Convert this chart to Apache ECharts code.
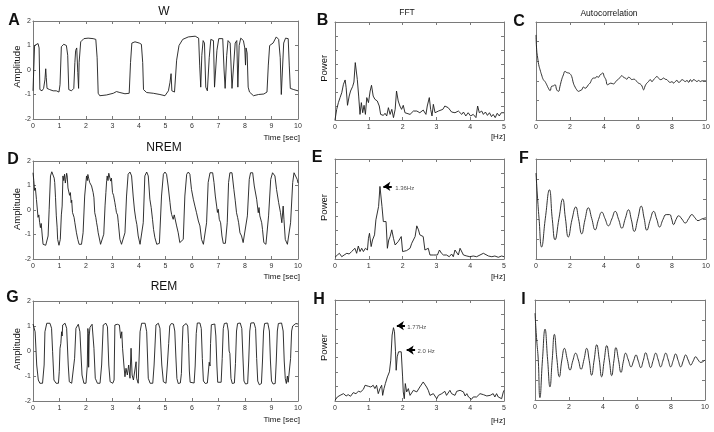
<!DOCTYPE html>
<html><head><meta charset="utf-8">
<script src="https://cdn.jsdelivr.net/npm/echarts@6.0.0/dist/echarts.min.js"></script>
<style>html,body{margin:0;padding:0;background:#fff}#c{width:714px;height:432px}</style>
</head><body><div id="c"></div>
<script>
// ---------- data (time [sec] / frequency [Hz], value) ----------
const wSignal = [[0,-0.85],[0.03,-0.8],[0.06,1.0],[0.13,1.05],[0.19,1.08],[0.23,0.9],[0.26,-0.8],[0.34,-0.85],[0.40,-0.75],[0.45,-0.4],[0.48,0.05],[0.50,-0.3],[0.53,-0.75],[0.63,-0.8],[0.70,-0.78],[0.76,-0.85],[0.88,-0.85],[0.98,-0.9],[1.02,-0.6],[1.07,0.95],[1.16,1.05],[1.26,1.0],[1.31,0.6],[1.35,-0.8],[1.45,-0.85],[1.54,-0.75],[1.58,0.3],[1.61,0.8],[1.65,0.9],[1.69,-0.1],[1.72,-0.75],[1.74,0.3],[1.80,1.15],[1.92,1.28],[2.08,1.3],[2.27,1.28],[2.37,1.25],[2.42,0.5],[2.46,-0.95],[2.52,-1.05],[2.77,-1.02],[3.03,-0.95],[3.15,-0.88],[3.28,-0.92],[3.47,-0.97],[3.63,-0.95],[3.68,0.3],[3.73,1.1],[3.85,1.15],[4.01,1.1],[4.09,1.05],[4.14,0.3],[4.17,-0.8],[4.29,-0.92],[4.54,-0.95],[4.79,-1.0],[4.98,-1.05],[5.11,-0.85],[5.17,-0.5],[5.21,-0.15],[5.24,-0.85],[5.34,-0.9],[5.42,0.4],[5.51,1.0],[5.65,1.25],[5.86,1.35],[6.12,1.38],[6.25,1.3],[6.29,0.2],[6.33,-0.7],[6.37,0.6],[6.42,1.2],[6.47,1.1],[6.52,-0.7],[6.58,-0.85],[6.65,0.5],[6.71,1.25],[6.81,1.2],[6.85,-0.7],[6.89,-0.75],[6.94,0.8],[7.01,1.28],[7.16,1.28],[7.21,0],[7.25,-0.75],[7.31,0.6],[7.36,1.2],[7.44,1.1],[7.51,-0.75],[7.58,-0.7],[7.63,1.1],[7.69,1.2],[7.73,-0.7],[7.78,1.0],[7.84,1.3],[7.94,1.2],[7.99,0.9],[8.02,0.2],[8.04,0.9],[8.08,0.7],[8.12,-0.7],[8.17,-0.9],[8.32,-1.05],[8.51,-1.0],[8.71,-0.98],[8.83,-0.9],[8.88,0.2],[8.93,1.0],[9.06,1.1],[9.18,1.35],[9.27,1.25],[9.33,0.5],[9.37,-1.0],[9.41,-0.95],[9.46,1.1],[9.53,1.3],[9.63,1.28],[9.67,0.2],[9.71,-0.75],[9.84,-0.8],[10,-0.85]];

const nremSignal = [[0,1.52],[0.03,1.2],[0.06,0.8],[0.09,0.9],[0.13,0.43],[0.16,0.5],[0.19,-0.3],[0.22,-0.2],[0.25,-0.5],[0.28,-0.72],[0.31,-0.55],[0.35,-1.06],[0.38,-1.4],[0.43,-1.44],[0.48,-1.44],[0.53,-1.36],[0.57,-1.06],[0.61,0.03],[0.66,1.39],[0.71,1.56],[0.76,1.52],[0.80,1.3],[0.82,1.12],[0.85,0.5],[0.88,-0.24],[0.91,-0.7],[0.93,-1.2],[0.98,-1.44],[1.03,-1.2],[1.07,-0.2],[1.10,0.16],[1.13,1.39],[1.16,1.2],[1.19,1.46],[1.22,1.1],[1.24,1.25],[1.27,1.5],[1.29,1.39],[1.32,0.9],[1.36,0.98],[1.38,0.6],[1.41,0.71],[1.44,0.3],[1.46,0.4],[1.49,-0.1],[1.51,-0.18],[1.55,-0.3],[1.58,-0.52],[1.61,-0.6],[1.64,-0.93],[1.69,-1.2],[1.74,-1.4],[1.83,-1.4],[1.89,-0.93],[1.95,0.57],[2.02,1.39],[2.05,1.2],[2.07,1.45],[2.10,1.3],[2.14,1.12],[2.17,1.2],[2.21,0.98],[2.24,1.05],[2.27,0.71],[2.30,0.5],[2.33,-0.11],[2.37,-0.3],[2.40,-0.52],[2.43,-0.7],[2.46,-0.93],[2.55,-1.4],[2.62,-1.36],[2.67,-0.99],[2.72,0.2],[2.75,0.71],[2.78,1.2],[2.80,1.39],[2.83,1.2],[2.86,1.5],[2.88,1.46],[2.93,1.18],[2.96,1.3],[3.00,0.71],[3.04,0.6],[3.09,0.3],[3.12,0.1],[3.15,-0.11],[3.19,-0.2],[3.22,-0.52],[3.28,-1.2],[3.34,-1.4],[3.40,-1.36],[3.47,-0.93],[3.53,0.57],[3.59,1.46],[3.66,1.55],[3.72,1.39],[3.78,0.57],[3.83,0.0],[3.88,-0.38],[3.92,-0.6],[3.97,-1.06],[4.04,-1.4],[4.10,-1.4],[4.16,-0.52],[4.22,1.39],[4.29,1.55],[4.35,1.39],[4.41,0.44],[4.46,0.1],[4.51,-0.38],[4.55,-0.8],[4.60,-1.13],[4.67,-1.4],[4.77,-1.36],[4.85,0.57],[4.92,1.46],[4.98,1.55],[5.04,1.46],[5.10,0.98],[5.17,0.3],[5.20,0.0],[5.23,-0.18],[5.29,-0.38],[5.33,-0.2],[5.36,-0.24],[5.42,-0.65],[5.48,-0.93],[5.54,-1.33],[5.61,-1.4],[5.67,-1.2],[5.73,0.57],[5.80,1.46],[5.86,1.55],[5.92,1.46],[5.98,0.84],[6.05,0.44],[6.08,0.5],[6.11,0.16],[6.17,-0.11],[6.20,-0.05],[6.24,-0.45],[6.30,-0.65],[6.36,-1.2],[6.43,-1.4],[6.49,-1.4],[6.55,-0.52],[6.61,1.12],[6.68,1.52],[6.78,1.52],[6.83,1.12],[6.88,0.57],[6.93,0.16],[6.96,-0.1],[6.99,0.03],[7.03,-0.38],[7.08,-0.52],[7.13,-1.06],[7.18,-1.36],[7.26,-1.36],[7.33,-0.52],[7.38,1.12],[7.43,1.52],[7.51,1.52],[7.58,0.84],[7.63,0.4],[7.68,-0.11],[7.72,-0.3],[7.76,-0.52],[7.81,-0.93],[7.87,-1.06],[7.93,-1.33],[8.00,-1.26],[8.09,-0.24],[8.16,1.25],[8.21,1.52],[8.29,1.52],[8.35,0.98],[8.44,0.44],[8.50,-0.11],[8.53,0.1],[8.56,-0.24],[8.63,-0.52],[8.66,-0.79],[8.71,-1.33],[8.79,-1.4],[8.84,-1.33],[8.89,-0.24],[8.97,1.25],[9.04,1.52],[9.13,1.39],[9.19,0.84],[9.27,0.3],[9.34,-0.11],[9.39,-0.52],[9.44,0.16],[9.47,-0.38],[9.52,-1.2],[9.60,-1.4],[9.67,-1.36],[9.72,-0.52],[9.80,1.12],[9.85,1.52],[9.92,1.52],[9.97,1.25],[10,1.1]];

const remSignal = [[0,1.08],[0.01,1.11],[0.08,0.77],[0.14,-0.56],[0.2,-1.16],[0.26,-1.29],[0.36,-1.29],[0.42,-0.56],[0.45,0.77],[0.52,1.11],[0.64,1.11],[0.70,0.91],[0.74,-0.03],[0.79,-1.16],[0.87,-1.29],[0.96,-1.29],[0.99,-0.83],[1.02,0.11],[1.05,0.3],[1.08,0.77],[1.10,0.6],[1.12,1.04],[1.21,1.11],[1.27,0.91],[1.33,-0.56],[1.37,-1.23],[1.46,-1.29],[1.52,-1.23],[1.57,-0.29],[1.62,0.91],[1.71,1.07],[1.77,0.77],[1.85,-0.96],[1.92,-1.29],[2.0,-1.29],[2.05,-0.56],[2.07,0.9],[2.09,0.7],[2.10,-0.65],[2.12,0.6],[2.15,0.95],[2.23,1.07],[2.30,0.11],[2.35,-1.09],[2.43,-1.29],[2.53,-1.29],[2.59,-0.56],[2.65,1.04],[2.75,1.11],[2.81,0.97],[2.86,-0.56],[2.91,-1.23],[3.01,-1.29],[3.06,-1.16],[3.09,1.04],[3.18,1.07],[3.26,1.04],[3.31,0.51],[3.35,0.77],[3.38,0.11],[3.43,-0.56],[3.47,-1.03],[3.51,-0.69],[3.56,-0.96],[3.61,-0.56],[3.66,-1.09],[3.70,0.11],[3.74,-0.96],[3.79,-1.16],[3.85,-1.09],[3.89,-0.43],[3.91,-1.09],[3.97,-1.29],[4.04,0.77],[4.10,1.11],[4.23,1.11],[4.29,0.77],[4.35,-1.09],[4.42,-1.29],[4.52,-1.29],[4.57,-0.56],[4.64,1.04],[4.73,1.11],[4.79,0.91],[4.86,-0.56],[4.92,-1.23],[5.02,-1.29],[5.07,-0.56],[5.12,0.3],[5.16,1.0],[5.22,1.1],[5.3,1.08],[5.35,0.8],[5.39,-0.2],[5.43,-1.1],[5.48,-1.3],[5.56,-1.28],[5.6,-0.9],[5.63,0.2],[5.66,1.0],[5.7,1.08],[5.78,1.1],[5.84,1.0],[5.87,0.3],[5.9,-0.8],[5.93,-1.25],[6.0,-1.3],[6.08,-1.28],[6.12,-0.6],[6.16,0.7],[6.2,1.12],[6.3,1.12],[6.35,0.9],[6.39,-0.3],[6.43,-1.2],[6.5,-1.3],[6.58,-1.28],[6.62,-0.8],[6.65,-0.45],[6.68,-0.6],[6.7,0.3],[6.73,1.05],[6.8,1.1],[6.86,1.08],[6.9,0.6],[6.94,-0.6],[6.97,-1.25],[7.04,-1.3],[7.1,-1.25],[7.14,-0.3],[7.18,0.9],[7.22,1.1],[7.32,1.12],[7.37,0.8],[7.4,0.0],[7.43,-0.1],[7.47,-1.1],[7.52,-1.3],[7.6,-1.28],[7.64,-0.5],[7.68,0.8],[7.72,1.1],[7.82,1.12],[7.88,0.9],[7.92,-0.2],[7.96,-1.2],[8.02,-1.32],[8.1,-1.3],[8.14,-0.4],[8.18,0.8],[8.22,1.12],[8.34,1.13],[8.4,0.9],[8.44,-0.3],[8.48,-1.2],[8.54,-1.35],[8.62,-1.3],[8.66,-0.4],[8.7,0.8],[8.74,1.1],[8.86,1.12],[8.92,0.8],[8.96,-0.4],[9.0,-1.2],[9.06,-1.32],[9.14,-1.3],[9.18,-0.4],[9.22,0.8],[9.26,1.1],[9.38,1.12],[9.44,0.8],[9.48,-0.4],[9.52,-1.1],[9.56,-1.3],[9.6,-1.0],[9.63,-1.25],[9.68,-1.3],[9.72,-0.3],[9.76,0.8],[9.8,1.0],[9.86,1.05],[9.92,1.1],[10.0,1.08]];

const wFFT = [[0,0],[0.05,0.76],[0.10,1.24],[0.15,1.6],[0.20,1.95],[0.25,2.55],[0.30,2.86],[0.33,2.31],[0.37,1.05],[0.42,1.71],[0.46,2.07],[0.52,2.38],[0.56,2.71],[0.60,4.1],[0.62,4.21],[0.66,2.9],[0.70,1.71],[0.74,0.4],[0.78,1.24],[0.82,0.52],[0.86,1.05],[0.90,0.4],[0.94,1.6],[0.99,1.24],[1.04,2.07],[1.08,2.48],[1.13,1.71],[1.18,1.48],[1.25,1.36],[1.31,1.0],[1.35,0.4],[1.39,0.52],[1.43,0.33],[1.48,0.48],[1.53,0.29],[1.58,0.88],[1.63,0.4],[1.68,0.76],[1.73,0.17],[1.78,0.76],[1.82,2.07],[1.87,1.36],[1.92,1.0],[1.97,0.76],[2.02,1.05],[2.07,0.52],[2.12,0.4],[2.22,0.4],[2.32,0.64],[2.42,0.64],[2.51,0.52],[2.61,0.71],[2.69,0.4],[2.73,1.0],[2.79,1.6],[2.83,0.76],[2.87,0.29],[2.91,1.12],[2.96,0.52],[3.01,0.4],[3.06,0.64],[3.11,0.52],[3.19,0.76],[3.25,1.0],[3.35,0.88],[3.45,0.57],[3.55,0.52],[3.65,0.64],[3.75,0.4],[3.80,0.57],[3.87,0.29],[3.94,0.52],[4.01,0.29],[4.09,0.4],[4.17,0.17],[4.22,1.0],[4.27,0.52],[4.34,0.64],[4.39,0.4],[4.45,0.57],[4.51,0.33],[4.57,0.52],[4.63,0.24],[4.68,0.4],[4.74,0.17],[4.80,0.48],[4.86,0.29],[4.92,0.52],[5.0,0.52]];

const nremFFT = [[0,0.12],[0.07,0.28],[0.13,0.40],[0.20,0.16],[0.27,0.28],[0.35,0.40],[0.42,0.35],[0.49,0.52],[0.54,0.40],[0.59,0.75],[0.64,0.40],[0.69,0.91],[0.74,0.52],[0.79,0.75],[0.84,0.52],[0.90,0.75],[0.96,0.63],[0.99,1.45],[1.02,1.80],[1.07,0.87],[1.11,1.33],[1.17,1.69],[1.21,2.74],[1.25,2.79],[1.29,3.68],[1.33,5.08],[1.36,4.96],[1.39,3.68],[1.43,2.62],[1.47,2.51],[1.51,2.62],[1.55,0.75],[1.59,1.33],[1.63,1.57],[1.68,2.04],[1.73,1.45],[1.78,0.98],[1.82,0.87],[1.87,1.22],[1.92,1.33],[1.96,1.57],[2.0,0.52],[2.04,0.52],[2.12,0.59],[2.17,0.59],[2.22,0.75],[2.27,1.10],[2.32,1.10],[2.37,1.57],[2.42,2.32],[2.47,2.04],[2.51,1.69],[2.56,1.62],[2.61,1.57],[2.66,0.63],[2.71,0.52],[2.76,0.75],[2.81,0.28],[2.86,0.40],[2.91,0.28],[2.96,0.21],[3.03,0.28],[3.09,0.63],[3.15,0.40],[3.21,0.28],[3.30,0.28],[3.38,0.16],[3.45,0.35],[3.50,0.16],[3.55,0.63],[3.60,0.52],[3.65,0.28],[3.70,0.75],[3.75,0.63],[3.80,0.28],[3.90,0.21],[3.99,0.16],[4.09,0.21],[4.19,0.16],[4.29,0.28],[4.39,0.40],[4.44,0.28],[4.54,0.21],[4.64,0.16],[4.73,0.21],[4.83,0.12],[4.93,0.21],[5.0,0.16]];

const remFFT = [[0,0.05],[0.07,0.28],[0.15,0.39],[0.25,0.51],[0.33,0.35],[0.39,0.44],[0.46,0.33],[0.54,0.58],[0.62,0.51],[0.69,0.67],[0.76,0.63],[0.84,0.81],[0.89,1.09],[0.94,0.97],[0.99,1.02],[1.06,0.97],[1.13,1.09],[1.18,0.86],[1.23,1.09],[1.28,0.51],[1.33,0.86],[1.38,1.09],[1.41,0.39],[1.45,0.86],[1.49,1.21],[1.55,1.67],[1.61,2.02],[1.65,2.83],[1.69,4.57],[1.73,5.08],[1.76,4.8],[1.79,3.41],[1.81,2.13],[1.84,3.06],[1.88,3.41],[1.92,3.53],[1.96,3.41],[2.0,1.67],[2.02,0.63],[2.05,0.16],[2.08,1.21],[2.12,0.63],[2.17,0.86],[2.22,0.39],[2.27,0.51],[2.32,0.74],[2.37,0.86],[2.42,0.63],[2.47,0.74],[2.51,0.97],[2.56,1.09],[2.61,1.32],[2.66,1.21],[2.71,0.97],[2.76,0.74],[2.81,0.39],[2.86,0.28],[2.91,0.51],[2.96,0.39],[3.01,0.16],[3.06,0.39],[3.11,0.28],[3.16,0.51],[3.21,0.51],[3.25,0.67],[3.30,0.39],[3.35,0.51],[3.40,0.74],[3.45,0.51],[3.50,0.63],[3.55,0.39],[3.60,0.67],[3.65,0.63],[3.70,0.74],[3.75,0.86],[3.80,0.63],[3.85,0.35],[3.90,0.51],[3.95,0.28],[4.0,0.16],[4.04,0.12],[4.09,0.28],[4.19,0.28],[4.29,0.51],[4.39,0.44],[4.49,0.35],[4.59,0.39],[4.68,0.51],[4.73,0.28],[4.78,0.51],[4.83,0.28],[4.88,0.39],[4.93,0.16],[4.98,0.63],[5.0,0.74]];

const wACF = [[0,1.17],[0.04,0.79],[0.10,0.58],[0.16,0.41],[0.24,0.28],[0.33,0.15],[0.43,0.03],[0.53,-0.02],[0.63,-0.10],[0.73,-0.19],[0.83,-0.25],[0.92,-0.14],[1.02,-0.13],[1.12,-0.10],[1.22,-0.23],[1.32,-0.27],[1.41,-0.14],[1.51,0.03],[1.61,0.15],[1.71,0.24],[1.81,0.21],[1.91,0.20],[2.0,0.18],[2.10,0.11],[2.20,-0.06],[2.30,-0.16],[2.40,-0.23],[2.50,-0.27],[2.59,-0.25],[2.69,-0.23],[2.79,-0.16],[2.89,-0.19],[2.99,-0.16],[3.08,-0.10],[3.18,-0.06],[3.28,0.03],[3.38,0.07],[3.48,0.07],[3.58,0.11],[3.67,0.09],[3.77,0.15],[3.87,0.18],[3.93,0.20],[4.01,0.11],[4.11,0.03],[4.20,-0.10],[4.30,-0.08],[4.40,-0.06],[4.56,-0.08],[4.66,-0.04],[4.75,0.01],[4.85,0.04],[4.95,0.09],[5.05,0.13],[5.15,0.09],[5.25,0.07],[5.34,0.04],[5.44,0.09],[5.54,0.07],[5.64,0.03],[5.74,0.04],[5.83,0.03],[5.93,-0.02],[6.03,-0.06],[6.13,-0.08],[6.23,-0.13],[6.33,-0.23],[6.42,-0.13],[6.52,-0.06],[6.62,-0.02],[6.72,0.03],[6.82,-0.02],[6.92,0.03],[7.01,0.07],[7.11,0.11],[7.21,0.07],[7.31,0.03],[7.41,0.04],[7.50,0.07],[7.60,0.04],[7.70,0.03],[7.80,-0.02],[7.90,-0.04],[8.0,-0.02],[8.09,-0.06],[8.19,-0.02],[8.29,0.01],[8.39,-0.04],[8.49,-0.02],[8.59,0.03],[8.68,0.01],[8.78,-0.02],[8.88,0.01],[8.98,-0.04],[9.08,0.03],[9.17,-0.02],[9.27,0.03],[9.37,0.01],[9.47,-0.02],[9.57,0.01],[9.67,-0.02],[9.76,0],[9.86,0],[10,0]];

const nremACF = [[0,1.15],[0.08,0.6],[0.18,0.01],[0.33,-0.7],[0.55,0.02],[0.79,0.73],[0.96,-0.01],[1.12,-0.52],[1.35,0.01],[1.57,0.5],[1.73,0.02],[1.9,-0.45],[2.12,-0.01],[2.34,0.3],[2.5,0.01],[2.69,-0.37],[2.88,-0.02],[3.08,0.28],[3.28,0.01],[3.48,-0.27],[3.68,-0.01],[3.87,0.17],[4.06,0.01],[4.26,-0.17],[4.46,0.0],[4.66,0.19],[4.86,-0.01],[5.05,-0.23],[5.25,0.01],[5.44,0.23],[5.61,-0.02],[5.78,-0.31],[5.99,0.01],[6.19,0.32],[6.36,0.02],[6.52,-0.28],[6.72,-0.02],[6.92,0.19],[7.1,0.0],[7.27,-0.2],[7.47,-0.01],[7.66,0.11],[7.86,0.11],[7.98,0.0],[8.09,-0.14],[8.24,-0.01],[8.39,0.08],[8.58,0.0],[8.78,-0.1],[8.98,0.01],[9.17,0.11],[9.35,0.03],[9.53,-0.04],[9.75,0.0],[10,0.03]];

const remACF = [[0,1.17],[0.1,0.5],[0.19,0.02],[0.29,-0.94],[0.44,0.01],[0.59,0.77],[0.74,0.02],[0.88,-0.67],[1.01,-0.01],[1.14,0.64],[1.29,0.02],[1.43,-0.42],[1.58,0.0],[1.73,0.29],[1.9,0.01],[2.06,-0.25],[2.23,-0.01],[2.39,0.17],[2.55,0.0],[2.71,-0.23],[2.88,0.01],[3.04,0.29],[3.19,-0.01],[3.33,-0.38],[3.48,0.0],[3.63,0.38],[3.78,0.01],[3.92,-0.42],[4.07,-0.01],[4.22,0.36],[4.37,0.0],[4.51,-0.39],[4.64,-0.02],[4.76,0.31],[4.91,0.01],[5.06,-0.31],[5.2,-0.03],[5.33,0.17],[5.49,0.0],[5.65,-0.17],[5.8,-0.02],[5.94,0.125],[6.08,-0.03],[6.22,-0.19],[6.37,-0.01],[6.51,0.18],[6.66,-0.01],[6.8,-0.19],[6.95,-0.01],[7.1,0.17],[7.25,0.0],[7.39,-0.17],[7.54,0.0],[7.69,0.17],[7.84,0.0],[7.98,-0.17],[8.13,-0.01],[8.27,0.15],[8.42,-0.01],[8.57,-0.17],[8.72,-0.02],[8.86,0.125],[9.01,0.0],[9.16,-0.125],[9.31,-0.02],[9.45,0.08],[9.6,0.0],[9.75,-0.06],[10,0.0]];

// peak annotations: [arrow tail f, arrow head f, power, text, text f]
const nremPeaks = [[1.68,1.43,5.08,'1.36Hz',1.78]];
const remPeaks = [[2.07,1.83,5.22,'1.77Hz',2.14],[2.37,2.12,3.53,'2.0 Hz',2.44]];

const rowTitles = ['W','NREM','REM'];
const colTitles = ['FFT','Autocorrelation'];
const panelLetters = ['A','B','C','D','E','F','G','H','I'];

// ---------- layout ----------
const panels = [
  {l:33, t:21, w:265, h:98, kind:'time', data:wSignal},
  {l:335, t:22, w:169, h:98, kind:'fft', data:wFFT},
  {l:536, t:22, w:170, h:98, kind:'acf', data:wACF},
  {l:33, t:161, w:265, h:98, kind:'time', data:nremSignal},
  {l:335, t:159, w:169, h:100, kind:'fft', data:nremFFT, peaks:nremPeaks},
  {l:536, t:159, w:170, h:100, kind:'acf', data:nremACF},
  {l:33, t:301, w:265, h:100, kind:'time', data:remSignal},
  {l:335, t:300, w:169, h:101, kind:'fft', data:remFFT, peaks:remPeaks},
  {l:535, t:300, w:170, h:100, kind:'acf', data:remACF}
];
const FONT = '"Liberation Sans", Arial, sans-serif';
const frame = '#7a7a7a';
const grid = [], xAxis = [], yAxis = [], series = [];
panels.forEach((p, i) => {
  grid.push({left:p.l, top:p.t, width:p.w, height:p.h});
  const xr = p.kind === 'fft' ? {min:0,max:5,interval:1} : p.kind === 'acf' ? {min:0,max:10,interval:2} : {min:0,max:10,interval:1};
  const yr = p.kind === 'fft' ? {min:0,max:7,interval:1} : p.kind === 'acf' ? {min:-1,max:1.5,interval:0.5} : {min:-2,max:2,interval:1};
  const base = {type:'value', gridIndex:i, splitLine:{show:false},
    axisLine:{show:true, onZero:false, lineStyle:{color:frame, width:1}},
    axisTick:{show:true, inside:true, length:3, lineStyle:{color:frame}}};
  const lbl = {show:true, fontSize:7, color:'#333', fontFamily:FONT, margin:4};
  xAxis.push(Object.assign({}, base, xr, {position:'bottom', axisLabel:lbl}));
  xAxis.push(Object.assign({}, base, xr, {position:'top', axisLabel:{show:false}}));
  yAxis.push(Object.assign({}, base, yr, {position:'left', axisLabel: p.kind === 'time' ? Object.assign({}, lbl, {margin:2}) : {show:false}}));
  yAxis.push(Object.assign({}, base, yr, {position:'right', axisLabel:{show:false}}));
  const s = {type:'line', xAxisIndex:2*i, yAxisIndex:2*i, data:p.data, showSymbol:false, symbol:'none',
    smooth: p.kind === 'acf' ? 0.5 : false, lineStyle:{color:'#1c1c1c', width:0.9}, silent:true, animation:false};
  if (p.peaks) {
    s.markLine = {silent:true, animation:false, symbol:['none','arrow'], symbolSize:7,
      lineStyle:{color:'#000', width:2, type:'solid'}, label:{show:false},
      data: p.peaks.map(k => [{coord:[k[0], k[2]]}, {coord:[k[1], k[2]]}])};
    series.push(s);
    series.push({type:'scatter', xAxisIndex:2*i, yAxisIndex:2*i, symbolSize:0, silent:true, animation:false,
      data: p.peaks.map(k => [k[4], k[2] - 0.12, k[3]]),
      label:{show:true, position:'right', distance:0, formatter: d => d.data[2], fontSize:6, color:'#222', fontFamily:FONT}});
  } else series.push(s);
});

function txt(x, y, text, size, bold, rot) {
  return {type:'text', x:x, y:y, rotation: rot || 0, silent:true, z:10,
    style:{text:text, x:0, y:0, fill:'#111', font:(bold ? 'bold ' : '') + size + 'px ' + FONT,
      textAlign:'center', textVerticalAlign:'middle'}};
}
const letterPos = [[14,21],[322.5,21],[519,22],[13,160],[317,157.5],[524,159],[12.5,297.5],[319,300],[523.5,300]];
const graphic = [];
panelLetters.forEach((L, i) => graphic.push(txt(letterPos[i][0], letterPos[i][1], L, 16, true)));
graphic.push(txt(164, 12, rowTitles[0], 12));
graphic.push(txt(164, 148, rowTitles[1], 12));
graphic.push(txt(164, 287, rowTitles[2], 12));
graphic.push(txt(407, 13, colTitles[0], 8.5));
graphic.push(txt(609, 14, colTitles[1], 8.5));
[[66.7],[209],[349]].forEach(r => graphic.push(txt(17, r[0], 'Amplitude', 9.5, false, Math.PI/2)));
[[68.3],[207.5],[347.5]].forEach(r => graphic.push(txt(324, r[0], 'Power', 9.5, false, Math.PI/2)));
[[137.3],[276.7],[420]].forEach(r => graphic.push(txt(281.7, r[0], 'Time [sec]', 8)));
[[136.7],[276.7],[421]].forEach(r => graphic.push(txt(498, r[0], '[Hz]', 8)));

const chart = echarts.init(document.getElementById('c'), null, {renderer:'canvas'});
chart.setOption({animation:false, backgroundColor:'#fff', grid, xAxis, yAxis, series, graphic});
</script>
</body></html>
